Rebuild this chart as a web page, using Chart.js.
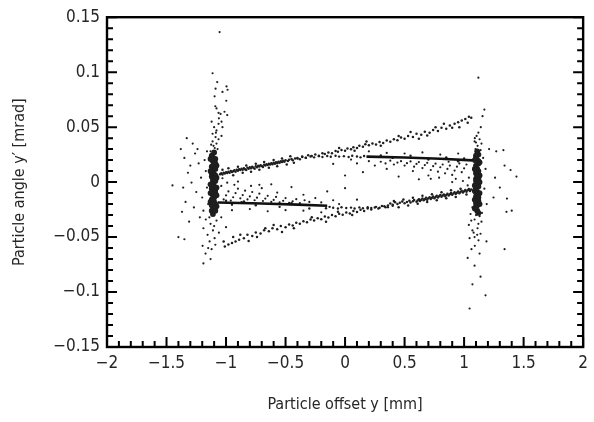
<!DOCTYPE html>
<html>
<head>
<meta charset="utf-8">
<script src="https://cdn.jsdelivr.net/npm/chart.js@4/dist/chart.umd.min.js"></script>
<style>
html,body{margin:0;padding:0;background:#fff;}
#wrap{width:594px;height:422px;}
</style>
</head>
<body>
<div id="wrap"><canvas id="c" width="594" height="422"></canvas></div>
<script>
// ---- Data (x: offset y [mm], y: angle y' [mrad]) as x,y pairs ----
const xTickLabels = ["−2","−1.5","−1","−0.5","0","0.5","1","1.5","2"];
const yTickLabels = ["−0.15","−0.1","−0.05","0","0.05","0.1","0.15"];

const leftCore = [
-1.10,0.027, -1.12,0.024, -1.09,0.021, -1.11,0.019, -1.10,0.016, -1.12,0.014, -1.09,0.012, -1.11,0.010,
-1.10,0.007, -1.12,0.005, -1.10,0.003, -1.09,0.001, -1.11,-0.001, -1.10,-0.004, -1.12,-0.006, -1.10,-0.008,
-1.09,-0.010, -1.11,-0.012, -1.10,-0.014, -1.12,-0.016, -1.10,-0.018, -1.09,-0.020, -1.11,-0.022, -1.10,-0.024,
-1.12,-0.026, -1.11,-0.029, -1.13,0.010, -1.08,0.004, -1.13,-0.002, -1.08,-0.012, -1.13,-0.018, -1.08,0.015,
-1.11,0.022, -1.09,0.017, -1.12,0.008, -1.09,0.006, -1.11,0.002, -1.12,-0.003, -1.09,-0.007, -1.11,-0.017,
-1.12,-0.021, -1.09,-0.026, -1.13,0.021, -1.08,-0.005, -1.13,-0.010, -1.08,-0.022
];
const rightCore = [
1.11,0.028, 1.12,0.025, 1.10,0.022, 1.11,0.020, 1.12,0.017, 1.10,0.015, 1.11,0.012, 1.12,0.010,
1.10,0.008, 1.11,0.005, 1.12,0.003, 1.10,0.001, 1.11,-0.002, 1.12,-0.004, 1.10,-0.006, 1.11,-0.009,
1.12,-0.011, 1.10,-0.013, 1.11,-0.015, 1.12,-0.017, 1.10,-0.019, 1.11,-0.021, 1.09,-0.024, 1.11,-0.026,
1.09,0.012, 1.13,0.006, 1.09,-0.003, 1.13,-0.010, 1.09,-0.016, 1.13,0.018,
1.10,0.024, 1.12,0.019, 1.10,0.011, 1.12,0.007, 1.10,0.003, 1.12,-0.001, 1.10,-0.009, 1.12,-0.014,
1.10,-0.022, 1.12,-0.028, 1.13,0.000, 1.09,0.020, 1.13,-0.020, 1.09,-0.008
];
const upperFlatLine = [0.18,0.0232, 0.50,0.0224, 0.80,0.0212, 1.07,0.0198];
const lowerFlatLine = [-1.07,-0.0185, -0.70,-0.0195, -0.40,-0.0205, -0.15,-0.0215];

const upperBand = [
-1.05,0.0072, -1.04,0.0081, -1.03,0.0069, -1.02,0.0085, -1.01,0.0078, -1.00,0.0090, -0.99,0.0082, -0.98,0.0094,
-0.97,0.0086, -0.96,0.0101, -0.95,0.0092, -0.94,0.0098, -0.93,0.0108, -0.92,0.0095, -0.91,0.0112, -0.90,0.0104,
-0.89,0.0117, -0.88,0.0109, -0.87,0.0121, -0.86,0.0113, -0.85,0.0125, -0.84,0.0118, -0.83,0.0110, -0.82,0.0131,
-0.81,0.0122, -0.80,0.0135, -0.79,0.0127, -0.78,0.0140, -0.77,0.0131, -0.76,0.0121, -0.75,0.0144, -0.74,0.0136,
-0.73,0.0149, -0.72,0.0141, -0.71,0.0153, -0.70,0.0146, -0.69,0.0138, -0.68,0.0157, -0.67,0.0150, -0.66,0.0162,
-0.65,0.0155, -0.64,0.0167, -0.63,0.0159, -0.62,0.0171, -0.61,0.0163, -0.60,0.0176, -0.59,0.0168, -0.58,0.0180,
-0.57,0.0172, -0.56,0.0186, -0.55,0.0177, -0.54,0.0190, -0.53,0.0182, -0.52,0.0194, -0.51,0.0186, -0.50,0.0199,
-0.48,0.0191, -0.47,0.0203, -0.45,0.0210, -0.44,0.0198, -0.42,0.0214, -0.40,0.0220, -0.38,0.0207,
-1.03,0.0112, -0.98,0.0125, -0.94,0.0062, -0.90,0.0140, -0.86,0.0085, -0.83,0.0150, -0.79,0.0095, -0.75,0.0168,
-0.72,0.0112, -0.68,0.0182, -0.64,0.0130, -0.60,0.0200, -0.57,0.0145, -0.53,0.0215, -0.49,0.0160, -0.46,0.0235,
-0.43,0.0175,
-0.36,0.0232, -0.33,0.0221, -0.31,0.0245, -0.28,0.0238, -0.25,0.0252, -0.22,0.0240, -0.19,0.0262, -0.17,0.0255,
-0.14,0.0270, -0.11,0.0262, -0.08,0.0283, -0.06,0.0275, -0.03,0.0292, 0.00,0.0285, 0.02,0.0305, 0.05,0.0298,
0.07,0.0318, 0.10,0.0310, 0.12,0.0330, 0.15,0.0322, 0.17,0.0345, 0.20,0.0336, 0.23,0.0352, 0.26,0.0342,
0.29,0.0365, 0.32,0.0355, 0.35,0.0378, 0.38,0.0368, 0.41,0.0390, 0.44,0.0380, 0.47,0.0405, 0.50,0.0395,
0.53,0.0420, 0.57,0.0410, 0.60,0.0440, 0.64,0.0430, 0.67,0.0458, 0.71,0.0448, 0.74,0.0475, 0.78,0.0465,
0.81,0.0495, 0.85,0.0485, 0.88,0.0515, 0.92,0.0530, 0.95,0.0545, 0.98,0.0560, 1.01,0.0575, 1.04,0.0595,
1.06,0.0585, 0.90,0.0495, 0.76,0.0500, 0.62,0.0395, 0.45,0.0420, 0.30,0.0330, 0.18,0.0370, 0.08,0.0285,
-0.05,0.0310, 0.96,0.0500, 1.03,0.0540, 0.55,0.0455, 0.69,0.0425, 0.83,0.0530
];
const lowerBand = [
1.06,-0.0068, 1.05,-0.0080, 1.04,-0.0062, 1.03,-0.0075, 1.02,-0.0088, 1.01,-0.0071, 1.00,-0.0083, 0.99,-0.0095,
0.98,-0.0079, 0.97,-0.0090, 0.96,-0.0102, 0.95,-0.0086, 0.94,-0.0097, 0.93,-0.0108, 0.92,-0.0092, 0.91,-0.0103,
0.90,-0.0115, 0.89,-0.0099, 0.88,-0.0110, 0.87,-0.0121, 0.86,-0.0105, 0.85,-0.0117, 0.84,-0.0128, 0.83,-0.0112,
0.82,-0.0123, 0.81,-0.0134, 0.80,-0.0118, 0.79,-0.0129, 0.78,-0.0141, 0.77,-0.0124, 0.76,-0.0136, 0.75,-0.0147,
0.74,-0.0130, 0.73,-0.0142, 0.72,-0.0153, 0.71,-0.0137, 0.70,-0.0148, 0.69,-0.0160, 0.68,-0.0143, 0.67,-0.0155,
0.66,-0.0166, 0.65,-0.0150, 0.64,-0.0161, 0.63,-0.0172, 0.62,-0.0156, 0.61,-0.0167, 0.60,-0.0179, 0.58,-0.0162,
0.57,-0.0174, 0.55,-0.0185, 0.54,-0.0169, 0.52,-0.0180, 0.50,-0.0192, 0.48,-0.0176, 0.46,-0.0188, 0.44,-0.0199,
0.42,-0.0183, 0.40,-0.0205, 0.38,-0.0195, 0.36,-0.0212,
1.02,-0.0112, 0.97,-0.0060, 0.93,-0.0135, 0.89,-0.0075, 0.85,-0.0148, 0.81,-0.0092, 0.77,-0.0165, 0.73,-0.0110,
0.69,-0.0182, 0.65,-0.0125, 0.61,-0.0198, 0.57,-0.0142, 0.53,-0.0212, 0.49,-0.0158, 0.45,-0.0228, 0.41,-0.0172,
0.34,-0.0228, 0.31,-0.0218, 0.28,-0.0240, 0.25,-0.0232, 0.22,-0.0250, 0.19,-0.0241, 0.16,-0.0262, 0.13,-0.0252,
0.10,-0.0272, 0.07,-0.0264, 0.04,-0.0285, 0.01,-0.0276, -0.02,-0.0296, -0.05,-0.0288, -0.08,-0.0310, -0.11,-0.0300,
-0.14,-0.0322, -0.17,-0.0312, -0.20,-0.0338, -0.23,-0.0328, -0.26,-0.0350, -0.29,-0.0340, -0.32,-0.0365, -0.35,-0.0355,
-0.38,-0.0380, -0.41,-0.0370, -0.44,-0.0395, -0.47,-0.0385, -0.50,-0.0410, -0.54,-0.0400, -0.57,-0.0430, -0.61,-0.0420,
-0.64,-0.0448, -0.68,-0.0438, -0.71,-0.0468, -0.75,-0.0458, -0.78,-0.0490, -0.82,-0.0480, -0.85,-0.0510, -0.89,-0.0525,
-0.92,-0.0540, -0.95,-0.0555, -0.98,-0.0568, -1.01,-0.0585, -0.88,-0.0480, -0.74,-0.0500, -0.60,-0.0390, -0.43,-0.0420,
-0.28,-0.0320, -0.16,-0.0360, -0.06,-0.0270, 0.06,-0.0300, -0.94,-0.0500, -1.02,-0.0540, -0.53,-0.0455, -0.67,-0.0420,
-0.81,-0.0535
];
const flatLineDots = [
-0.40,0.0215, -0.36,0.0228, -0.33,0.0220, -0.29,0.0233, -0.26,0.0225, -0.22,0.0236, -0.19,0.0228, -0.15,0.0238,
-0.12,0.0230, -0.08,0.0240, -0.05,0.0232, -0.01,0.0236, 0.03,0.0229, 0.06,0.0240, 0.10,0.0233, 0.13,0.0225,
0.16,0.0238, 0.30,0.0243, 0.40,0.0220, 0.55,0.0240, 0.70,0.0205, 0.85,0.0225, 0.95,0.0190, 1.00,0.0215,
0.40,-0.0215, 0.36,-0.0228, 0.33,-0.0220, 0.29,-0.0233, 0.26,-0.0225, 0.22,-0.0236, 0.19,-0.0228, 0.15,-0.0238,
0.12,-0.0230, 0.08,-0.0240, 0.05,-0.0232, 0.01,-0.0236, -0.03,-0.0229, -0.06,-0.0240, -0.10,-0.0233, -0.13,-0.0225,
-0.16,-0.0238, -0.30,-0.0240, -0.45,-0.0190, -0.55,-0.0225, -0.75,-0.0210, -0.85,-0.0175, -0.95,-0.0205, -1.00,-0.0170
];
const innerScatter = [
0.30,0.0185, 0.34,0.0170, 0.38,0.0195, 0.41,0.0160, 0.44,0.0178, 0.47,0.0190, 0.50,0.0150, 0.52,0.0172,
0.55,0.0188, 0.58,0.0140, 0.60,0.0165, 0.62,0.0182, 0.65,0.0128, 0.67,0.0155, 0.69,0.0175, 0.72,0.0110,
0.74,0.0145, 0.76,0.0168, 0.78,0.0095, 0.80,0.0135, 0.82,0.0160, 0.84,0.0080, 0.86,0.0120, 0.88,0.0150,
0.90,0.0065, 0.92,0.0105, 0.94,0.0140, 0.96,0.0170, 0.98,0.0090, 1.00,0.0125, 1.02,0.0160, 1.04,0.0040,
0.87,0.0185, 0.93,0.0030, 0.70,0.0060, 0.57,0.0100, 0.45,0.0050, 0.62,0.0025, 0.35,0.0120, 0.20,0.0190,
0.10,0.0170, 0.25,0.0150, 0.15,0.0090, 0.79,0.0040, 0.99,0.0010, 0.50,0.0260, 0.65,0.0270, 0.80,0.0250,
0.35,0.0265, 0.95,0.0260, 0.20,0.0280, 0.00,0.0060, -0.10,0.0165, 0.05,0.0205, 0.72,0.0030, 1.03,-0.0030,
0.90,0.0000,
-0.30,-0.0180, -0.34,-0.0165, -0.38,-0.0192, -0.41,-0.0155, -0.44,-0.0175, -0.47,-0.0188, -0.50,-0.0145, -0.52,-0.0170,
-0.55,-0.0185, -0.58,-0.0135, -0.60,-0.0162, -0.62,-0.0180, -0.65,-0.0125, -0.67,-0.0150, -0.69,-0.0172, -0.72,-0.0105,
-0.74,-0.0142, -0.76,-0.0165, -0.78,-0.0090, -0.80,-0.0130, -0.82,-0.0158, -0.84,-0.0078, -0.86,-0.0118, -0.88,-0.0148,
-0.90,-0.0060, -0.92,-0.0100, -0.94,-0.0138, -0.96,-0.0168, -0.98,-0.0085, -1.00,-0.0120, -1.02,-0.0158, -1.04,-0.0035,
-0.87,-0.0182, -0.93,-0.0025, -0.70,-0.0055, -0.57,-0.0095, -0.45,-0.0045, -0.62,-0.0020, -0.35,-0.0115, -0.20,-0.0185,
-0.10,-0.0165, -0.25,-0.0145, -0.15,-0.0085, -0.79,-0.0035, -0.99,-0.0005, -0.50,-0.0255, -0.65,-0.0265, -0.80,-0.0245,
-0.35,-0.0260, -0.95,-0.0255, -0.20,-0.0275, 0.00,-0.0055, 0.10,-0.0160, -0.05,-0.0200, -0.72,-0.0025, -1.03,0.0035,
-0.90,0.0005
];
const leftHalo = [
-1.054,0.1365, -1.113,0.099, -1.074,0.091, -0.996,0.087, -0.987,0.084, -1.088,0.085, -1.030,0.082, -1.096,0.078,
-0.998,0.074, -1.090,0.069, -1.080,0.067, -1.013,0.064, -1.063,0.063, -1.046,0.062, -0.990,0.061, -1.121,0.055,
-1.038,0.055, -1.063,0.053, -1.030,0.050, -1.080,0.047, -1.113,0.044, -1.038,0.042, -1.088,0.041, -1.063,0.039,
-1.113,0.037, -1.080,0.035, -1.105,0.033, -1.071,0.030, -1.130,0.028, -1.095,0.031, -1.125,0.034, -1.085,0.045,
-1.100,0.050, -1.060,0.058,
-1.33,0.040, -1.28,0.035, -1.26,0.026, -1.35,0.022, -1.23,0.017, -1.32,0.0085, -1.21,0.004, -1.29,-0.0004,
-1.36,-0.005, -1.25,-0.009, -1.20,-0.014, -1.34,-0.018, -1.27,-0.023, -1.37,-0.027, -1.22,-0.032, -1.31,-0.036,
-1.35,-0.052, -1.45,-0.003, -1.40,-0.050, -1.17,0.010, -1.16,-0.005, -1.18,0.020, -1.15,-0.020, -1.19,-0.026,
-1.16,0.028, -1.24,0.030, -1.30,0.015, -1.38,0.030,
-1.17,-0.034, -1.13,-0.038, -1.19,-0.042, -1.11,-0.044, -1.155,-0.048, -1.096,-0.051, -1.138,-0.054, -1.197,-0.058,
-1.121,-0.061, -1.172,-0.065, -1.13,-0.070, -1.19,-0.074, -1.10,-0.040, -1.08,-0.035, -1.14,-0.032, -1.04,-0.032,
-1.00,-0.041, -1.06,-0.046, -1.15,-0.060, -1.09,-0.057
];
const rightHalo = [
1.12,0.095, 1.17,0.066, 1.155,0.060, 1.105,0.042, 1.13,0.039, 1.088,0.037, 1.146,0.035, 1.113,0.033,
1.096,0.030, 1.138,0.029, 1.12,0.045, 1.09,0.040, 1.14,0.050, 1.10,0.036,
1.33,0.029, 1.34,0.015, 1.39,0.011, 1.26,0.004, 1.36,-0.015, 1.40,-0.026, 1.356,-0.027, 1.27,0.028,
1.247,-0.014, 1.18,0.012, 1.17,-0.006, 1.19,-0.020, 1.16,0.022, 1.21,0.030, 1.30,-0.005, 1.44,0.005,
1.07,-0.023, 1.105,-0.026, 1.054,-0.029, 1.13,-0.031, 1.088,-0.034, 1.146,-0.036, 1.04,-0.039, 1.113,-0.042,
1.07,-0.044, 1.138,-0.047, 1.088,-0.050, 1.046,-0.051, 1.121,-0.053, 1.188,-0.054, 1.062,-0.061, 1.13,-0.065,
1.03,-0.069, 1.088,-0.076, 1.138,-0.086, 1.07,-0.093, 1.18,-0.103, 1.046,-0.115, 1.34,-0.061, 1.10,-0.030,
1.12,-0.038, 1.08,-0.046, 1.15,-0.028, 1.06,-0.035, 1.09,-0.058, 1.11,-0.048
];

// ---- helpers ----
function pts(a){ const r=[]; for(let i=0;i<a.length;i+=2) r.push({x:a[i], y:a[i+1]}); return r; }
const FONT = "'DejaVu Sans Condensed','Liberation Sans Narrow','Liberation Sans',sans-serif";
const DOT = '#1e1e1e';
const TXT = '#262626';
function isMajor(v, step){ const k = v/step; return Math.abs(k-Math.round(k)) < 1e-6; }

const frameTicks = {
  id: 'frameTicks',
  afterDatasetsDraw(chart){
    const {ctx, chartArea:a, scales:{x, y}} = chart;
    ctx.save();
    ctx.strokeStyle = '#000';
    ctx.lineWidth = 2;
    ctx.beginPath();
    x.ticks.forEach(t => {
      const p = x.getPixelForValue(t.value);
      const L = isMajor(t.value, 0.5) ? 10 : 6;
      ctx.moveTo(p, a.bottom); ctx.lineTo(p, a.bottom - L);
    });
    y.ticks.forEach(t => {
      const p = y.getPixelForValue(t.value);
      const L = isMajor(t.value, 0.05) ? 10 : 6;
      ctx.moveTo(a.left, p); ctx.lineTo(a.left + L, p);
      ctx.moveTo(a.right, p); ctx.lineTo(a.right - L, p);
    });
    ctx.stroke();
    ctx.lineWidth = 2.4;
    ctx.strokeRect(a.left, a.top, a.right - a.left, a.bottom - a.top);
    ctx.restore();
  }
};

const dotSet = (arr, r) => ({
  type:'scatter', data: pts(arr), pointRadius: r, pointHoverRadius: r,
  pointBackgroundColor: DOT, pointBorderWidth: 0, borderWidth: 0
});
const lineSet = (arr) => ({
  type:'line', data: pts(arr), showLine: true, pointRadius: 0, borderColor: '#111',
  borderWidth: 2.6, tension: 0, fill: false
});

new Chart(document.getElementById('c'), {
  type: 'scatter',
  data: { datasets: [
    lineSet(upperFlatLine),
    lineSet(lowerFlatLine),
    dotSet(upperBand, 1.25),
    dotSet(lowerBand, 1.25),
    dotSet(flatLineDots, 1.2),
    dotSet(innerScatter, 1.1),
    dotSet(leftHalo, 1.1),
    dotSet(rightHalo, 1.1),
    dotSet(leftCore, 2.9),
    dotSet(rightCore, 2.9)
  ]},
  options: {
    responsive: false,
    animation: false,
    devicePixelRatio: 1,
    layout: { padding: { top: 12, right: 9, left: 0, bottom: 0 } },
    plugins: { legend: { display: false }, tooltip: { enabled: false } },
    scales: {
      x: {
        type: 'linear', min: -2, max: 2,
        grid: { display: false, drawTicks: false },
        border: { display: false },
        ticks: {
          stepSize: 0.1, autoSkip: false, maxRotation: 0, padding: 6,
          color: TXT, font: { family: FONT, size: 17 },
          callback: (v) => isMajor(v, 0.5) ? xTickLabels[Math.round((v + 2) / 0.5)] : ''
        },
        title: { display: true, text: 'Particle offset y [mm]', color: TXT,
                 font: { family: FONT, size: 16 }, padding: { top: 0, bottom: 8 } },
        afterFit: (s) => { s.height = 75; }
      },
      y: {
        type: 'linear', min: -0.15, max: 0.15,
        grid: { display: false, drawTicks: false },
        border: { display: false },
        ticks: {
          stepSize: 0.01, autoSkip: false, padding: 7,
          color: TXT, font: { family: FONT, size: 17 },
          callback: (v) => isMajor(v, 0.05) ? yTickLabels[Math.round((v + 0.15) / 0.05)] : ''
        },
        title: { display: true, text: 'Particle angle y\u2032 [mrad]', color: TXT,
                 font: { family: FONT, size: 16 }, padding: { top: 10, bottom: 0 } },
        afterFit: (s) => { s.width = 107; }
      }
    }
  },
  plugins: [frameTicks]
});
</script>
</body>
</html>
